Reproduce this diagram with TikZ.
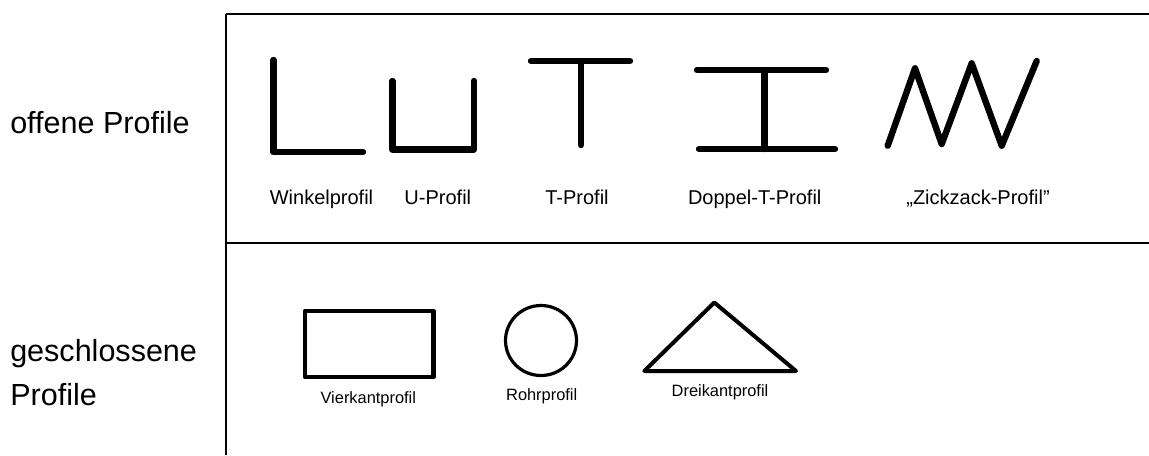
\documentclass[tikz,border=0pt]{standalone}
\usepackage{fontspec}
\setmainfont{Liberation Sans}
\usetikzlibrary{positioning}
\tikzset{
  %% frame of the table
  frameline/.style={draw=black, line width=1.5pt},
  %% profile strokes
  profil/.style={draw=black, line width=4.8pt, line cap=round, line join=round},
  profilS/.style={draw=black, line width=2.4pt, line join=round},
  %% labels
  head/.style={font=\fontsize{22.9}{32.3}\selectfont, inner sep=0pt, align=left},
  lbl/.style={font=\fontsize{15}{18}\selectfont, inner sep=0pt, anchor=base},
  lblS/.style={font=\fontsize{12.3}{15}\selectfont, inner sep=0pt, anchor=base},
}
\begin{document}
\begin{tikzpicture}[x=0.75pt, y=-0.75pt]
\useasboundingbox (0,0) rectangle (1149,455);

%% =============================================================
%%  FRAME
%% =============================================================
\draw[frameline] (226,14) -- (1149,14);
\draw[frameline] (226,243) -- (1149,243);
\draw[frameline] (226,14) -- (226,455);

%% -- row headings --
\node[head, anchor=base west] (hOffen) at (10,133.3) {offene Profile};
\node[head, anchor=base west] (hGeschl) at (10,361.7) {geschlossene};
\node[head, anchor=base west] (hGeschlB) at (10,405) {Profile};

%% =============================================================
%%  OPEN PROFILES (top row)
%% =============================================================
%% --- Winkelprofil ---
\draw[profil] (273.3,60) -- (273.3,152) -- (363,152);
%% --- U-Profil ---
\draw[profil] (392.3,81) -- (392.3,149.5) -- (474,149.5) -- (474,81);
%% --- T-Profil ---
\draw[profil] (531,61) -- (630,61);
\draw[profil] (581,61) -- (581,145);
%% --- Doppel-T-Profil ---
\draw[profil] (697,70) -- (826,70);
\draw[profil] (699,149) -- (835,149);
\draw[profil] (764.3,70) -- (764.3,149);
%% --- Zickzack-Profil ---
\draw[profil] (887.7,145.7) -- (915,68.3) -- (941.7,144) -- (971.7,63.3)
  -- (1001.7,145.7) -- (1036.7,61);

%% -- labels --
\node[lbl] (lWinkel) at (321.5,204) {Winkelprofil};
\node[lbl] (lU)      at (437.8,204) {U-Profil};
\node[lbl] (lT)      at (577,204)   {T-Profil};
\node[lbl] (lDT)     at (754.7,204) {Doppel-T-Profil};
\node[lbl] (lZZ)     at (978,204)   {„Zickzack-Profil\symbol{34}};

%% =============================================================
%%  CLOSED PROFILES (bottom row)
%% =============================================================
%% --- Vierkantprofil ---
\draw[profilS, line width=3.6pt] (305,311) rectangle (433.5,377);
%% --- Rohrprofil ---
\draw[profilS, line width=2.4pt] (541,340.5) ellipse [x radius=35.5, y radius=35];
%% --- Dreikantprofil ---
\draw[profilS, line width=3pt] (644.3,371) -- (714.3,302.5) -- (796,371) -- cycle;

%% -- labels --
\node[lblS] (lVier) at (368.3,403.3) {Vierkantprofil};
\node[lblS] (lRohr) at (541.7,400)   {Rohrprofil};
\node[lblS] (lDrei) at (720,396.7)   {Dreikantprofil};

\end{tikzpicture}
\end{document}
